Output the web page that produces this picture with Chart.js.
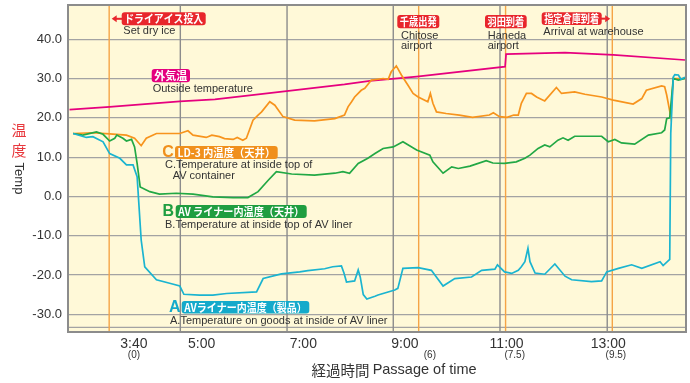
<!DOCTYPE html>
<html lang="ja">
<head>
<meta charset="UTF-8">
<title>温度推移</title>
<script src="https://cdn.jsdelivr.net/npm/chart.js@4.4.0/dist/chart.umd.min.js"></script>
<style>
  html, body { margin: 0; padding: 0; background: #fff; }
  .chart-box { position: relative; width: 690px; height: 383px; }
</style>
</head>
<body>
<div class="chart-box"><canvas id="tempChart"></canvas></div>
<script>
// x = clock time in hours (3.667 = 3:40), y = temperature in deg C
const outsideX = [2.40, 3.19, 4.57, 5.26, 6.67, 7.81, 8.31, 9.23, 10.97, 10.99, 12.15, 13.10, 14.51];
const outsideY = [22.1, 22.8, 24.2, 24.7, 26.8, 28.5, 29.4, 30.5, 33.0, 36.2, 36.6, 36.0, 34.7];

const ld3X = [2.47, 2.86, 3.19, 3.52, 3.68, 3.81, 3.91, 4.11, 4.57, 4.73, 4.83, 5.09, 5.20, 5.35, 5.45, 5.62, 5.70, 5.81, 5.88, 5.94, 6.01, 6.11, 6.18, 6.34, 6.44, 6.60, 6.83, 7.22, 7.62, 7.81, 7.88, 7.95, 8.01, 8.14, 8.21, 8.34, 8.57, 8.67, 8.73, 8.83, 8.93, 9.06, 9.16, 9.26, 9.45, 9.50, 9.55, 9.62, 9.81, 10.07, 10.33, 10.66, 10.74, 10.86, 11.01, 11.14, 11.23, 11.29, 11.39, 11.49, 11.59, 11.75, 11.98, 12.08, 12.34, 12.54, 12.87, 13.10, 13.49, 13.66, 13.75, 14.05, 14.11, 14.15, 14.23, 14.28, 14.51];
const ld3Y = [16.0, 16.2, 15.9, 15.6, 14.8, 12.9, 14.8, 16.0, 16.0, 16.7, 15.6, 15.0, 15.6, 15.2, 14.7, 14.5, 15.0, 14.3, 14.8, 16.9, 19.4, 20.7, 21.5, 24.1, 23.2, 20.3, 19.4, 19.2, 19.8, 20.7, 22.8, 24.1, 25.3, 27.0, 27.5, 29.6, 30.0, 29.8, 31.7, 33.2, 30.9, 28.3, 26.2, 25.3, 24.1, 26.2, 23.7, 21.5, 21.1, 20.7, 20.1, 20.7, 21.3, 20.3, 20.1, 20.7, 20.7, 23.7, 26.2, 26.2, 25.3, 24.3, 27.7, 26.2, 26.6, 26.0, 25.3, 24.5, 23.5, 24.9, 27.0, 28.1, 27.9, 25.8, 20.3, 30.0, 30.0];

const linerTopX = [2.47, 2.66, 2.93, 3.06, 3.19, 3.29, 3.33, 3.45, 3.52, 3.62, 3.68, 3.73, 3.79, 3.98, 4.17, 4.50, 4.83, 5.22, 5.62, 5.91, 6.11, 6.31, 6.47, 6.77, 7.22, 7.62, 7.78, 7.91, 8.08, 8.27, 8.41, 8.57, 8.77, 8.96, 9.23, 9.49, 9.55, 9.75, 9.92, 10.05, 10.28, 10.60, 10.73, 10.96, 11.19, 11.36, 11.46, 11.62, 11.75, 11.85, 12.01, 12.11, 12.21, 12.34, 12.87, 13.00, 13.13, 13.26, 13.52, 13.79, 14.05, 14.11, 14.15, 14.21, 14.28, 14.38, 14.51];
const linerTopY = [16.0, 15.6, 16.4, 15.8, 14.1, 14.8, 15.6, 14.8, 14.1, 14.5, 12.6, 8.4, 2.4, 1.2, 0.6, 0.8, 0.6, -0.1, -0.3, -0.3, 1.2, 4.1, 6.3, 5.7, 5.4, 5.9, 6.3, 5.9, 8.4, 9.7, 10.9, 12.2, 12.6, 13.9, 11.8, 10.5, 8.8, 5.9, 7.5, 7.1, 7.7, 9.1, 8.5, 8.4, 8.8, 9.7, 10.5, 12.2, 13.1, 12.6, 14.3, 14.9, 14.3, 15.3, 15.3, 13.9, 14.5, 13.6, 13.3, 15.6, 16.2, 16.9, 19.8, 20.0, 30.0, 29.6, 30.0];

const goodsX = [2.47, 2.73, 2.86, 3.06, 3.19, 3.39, 3.52, 3.65, 3.73, 3.81, 3.88, 4.11, 4.37, 4.57, 4.65, 4.96, 5.22, 5.49, 6.08, 6.21, 6.57, 6.93, 7.09, 7.42, 7.58, 7.75, 7.80, 7.85, 8.01, 8.08, 8.12, 8.18, 8.25, 8.41, 8.47, 8.80, 8.86, 8.96, 9.26, 9.52, 9.75, 9.98, 10.31, 10.51, 10.77, 10.82, 10.96, 11.10, 11.23, 11.29, 11.36, 11.42, 11.46, 11.56, 11.75, 11.95, 12.15, 12.28, 12.67, 12.87, 12.97, 13.20, 13.46, 13.66, 14.02, 14.08, 14.21, 14.23, 14.28, 14.31, 14.38, 14.43, 14.51];
const goodsY = [16.0, 15.0, 15.2, 13.9, 10.9, 9.7, 8.0, 8.0, 5.0, -11.1, -17.9, -21.2, -22.1, -22.8, -24.9, -25.1, -25.1, -24.7, -24.3, -20.9, -19.7, -19.2, -18.9, -18.4, -17.9, -17.7, -19.5, -21.8, -21.5, -18.7, -20.5, -25.0, -26.1, -25.4, -25.1, -23.8, -23.4, -18.3, -18.1, -18.8, -22.8, -20.9, -20.5, -18.8, -18.5, -17.4, -19.2, -19.6, -18.8, -17.9, -16.6, -13.2, -16.6, -19.5, -19.8, -17.2, -20.3, -21.2, -21.7, -21.5, -19.2, -18.3, -17.4, -18.3, -16.6, -17.6, -16.0, 16.0, 30.4, 31.0, 30.9, 29.8, 30.3];

// axis ticks
const xTickValues = [3.667, 5, 7, 9, 11, 13];
const xTickLabels = ['3:40', '5:00', '7:00', '9:00', '11:00', '13:00'];
const subTickValues = [3.667, 9.49, 11.16, 13.15];
const subTickLabels = ['(0)', '(6)', '(7.5)', '(9.5)'];
const yTickValues = [-30, -20, -10, 0, 10, 20, 30, 40];
const gridXValues = [4.58, 6.68, 8.77, 10.87, 12.98];
const eventXValues = [3.18, 9.27, 10.98, 13.08];
const extraYLines = [-33.3];

const FONT = '"Liberation Sans", Arial, "Noto Sans CJK JP", sans-serif';
const CJK = '"Noto Sans CJK JP", sans-serif';
const TEXT = '#333';

function pts(xs, ys) { return xs.map((x, i) => ({x: x, y: ys[i]})); }

// tags: [left, top, right, bottom, color, text, arrow]
const tags = [
  [121.7, 12.3, 205.7, 25.3, '#e8262c', 'ドライアイス投入', 'left'],
  [151.7, 69, 190, 82.3, '#e4007f', '外気温'],
  [397.3, 15, 439.3, 28.3, '#e8262c', '千歳出発'],
  [485, 15, 526.7, 28.3, '#e8262c', '羽田到着'],
  [541.7, 12.3, 601.7, 25, '#e8262c', '指定倉庫到着', 'right'],
  [175, 146, 277.7, 159, '#f0901c', 'LD-3 内温度（天井）'],
  [175.7, 205, 306.7, 218, '#1f9e40', 'AV ライナー内温度（天井）'],
  [181.7, 301, 309.3, 313.5, '#14aacb', 'AVライナー内温度（製品）']
];
const notes = [
  [123.3, 31, 'Set dry ice'],
  [152.7, 89, 'Outside temperature'],
  [401, 36, 'Chitose'], [401, 45.7, 'airport'],
  [487.7, 36, 'Haneda'], [487.7, 45.7, 'airport'],
  [543.3, 32.3, 'Arrival at warehouse'],
  [165, 165, 'C.Temperature at inside top of'],
  [172.7, 176, 'AV container'],
  [165, 225.3, 'B.Temperature at inside top of AV liner'],
  [170, 321, 'A.Temperature on goods at inside of AV liner']
];
const letters = [[168, 152.5, 'C', '#f0901c'], [168.3, 211.7, 'B', '#1f9e40'], [174.7, 307.5, 'A', '#14aacb']];

function roundRect(ctx, x, y, w, h, r) {
  ctx.beginPath();
  ctx.moveTo(x + r, y);
  ctx.arcTo(x + w, y, x + w, y + h, r);
  ctx.arcTo(x + w, y + h, x, y + h, r);
  ctx.arcTo(x, y + h, x, y, r);
  ctx.arcTo(x, y, x + w, y, r);
  ctx.closePath();
}

const decor = {
  id: 'decor',
  beforeDraw(chart) {
    const {ctx, chartArea: a} = chart;
    ctx.save();
    ctx.fillStyle = '#fff9d8';
    ctx.fillRect(a.left, a.top, a.width, a.height);
    ctx.restore();
  },
  beforeDatasetsDraw(chart) {
    const {ctx, chartArea: a, scales: {x, y}} = chart;
    ctx.save();
    ctx.strokeStyle = '#a3a3a3';
    ctx.lineWidth = 1.2;
    extraYLines.forEach(v => {
      const py = y.getPixelForValue(v);
      ctx.beginPath(); ctx.moveTo(a.left, py); ctx.lineTo(a.right, py); ctx.stroke();
    });
    ctx.strokeStyle = '#8c8c8c';
    ctx.lineWidth = 1.4;
    gridXValues.forEach(v => {
      const px = x.getPixelForValue(v);
      ctx.beginPath(); ctx.moveTo(px, a.top); ctx.lineTo(px, a.bottom); ctx.stroke();
    });
    ctx.strokeStyle = '#f5a446';
    ctx.lineWidth = 1.4;
    eventXValues.forEach(v => {
      const px = x.getPixelForValue(v);
      ctx.beginPath(); ctx.moveTo(px, a.top); ctx.lineTo(px, a.bottom); ctx.stroke();
    });
    ctx.restore();
  },
  afterDatasetsDraw(chart) {
    const {ctx, chartArea: a, scales: {x}} = chart;
    ctx.save();
    // frame
    ctx.strokeStyle = '#8c8c8c';
    ctx.lineWidth = 2;
    ctx.strokeRect(a.left, a.top, a.width, a.height);

    // label tags
    tags.forEach(t => {
      const [l, tp, r, b, color, text, arrow] = t;
      ctx.fillStyle = color;
      roundRect(ctx, l, tp, r - l, b - tp, 3);
      ctx.fill();
      const my = (tp + b) / 2;
      if (arrow === 'left') {
        ctx.fillRect(l - 6, my - 1, 7, 2);
        ctx.beginPath(); ctx.moveTo(l - 10, my); ctx.lineTo(l - 5, my - 3.5); ctx.lineTo(l - 5, my + 3.5); ctx.fill();
      } else if (arrow === 'right') {
        ctx.fillRect(r - 1, my - 1, 5, 2);
        ctx.beginPath(); ctx.moveTo(r + 8.5, my); ctx.lineTo(r + 3.5, my - 3.5); ctx.lineTo(r + 3.5, my + 3.5); ctx.fill();
      }
      ctx.fillStyle = '#fff';
      ctx.font = 'bold 11px ' + CJK;
      ctx.textAlign = 'center';
      ctx.textBaseline = 'middle';
      ctx.fillText(text, (l + r) / 2, my + 0.5, r - l - 5);
    });

    letters.forEach(([lx, ly, s, c]) => {
      ctx.fillStyle = c;
      ctx.font = 'bold 16px ' + FONT;
      ctx.textAlign = 'center';
      ctx.textBaseline = 'middle';
      ctx.fillText(s, lx, ly);
    });

    ctx.fillStyle = TEXT;
    ctx.font = '11px ' + FONT;
    ctx.textAlign = 'left';
    ctx.textBaseline = 'middle';
    notes.forEach(([nx, ny, s]) => ctx.fillText(s, nx, ny));

    // sub labels under time ticks
    ctx.font = '10px ' + FONT;
    ctx.textAlign = 'center';
    subTickValues.forEach((v, i) => ctx.fillText(subTickLabels[i], x.getPixelForValue(v), 355.7));

    // axis titles
    ctx.font = '14.5px ' + CJK;
    ctx.textAlign = 'left';
    const t1 = '経過時間 ';
    const w1 = ctx.measureText(t1).width;
    ctx.font = '14.5px ' + FONT;
    const t2 = 'Passage of time';
    const w2 = ctx.measureText(t2).width;
    const sx = 394 - (w1 + w2) / 2;
    ctx.font = '14.5px ' + CJK;
    ctx.fillText(t1, sx, 370);
    ctx.font = '14.5px ' + FONT;
    ctx.fillText(t2, sx + w1, 370);

    ctx.fillStyle = '#e8383d';
    ctx.font = '15px ' + CJK;
    ctx.textAlign = 'center';
    ctx.fillText('温', 19, 130.5);
    ctx.fillText('度', 19, 150);
    ctx.fillStyle = TEXT;
    ctx.translate(19, 178.5);
    ctx.rotate(Math.PI / 2);
    ctx.font = '13px ' + FONT;
    ctx.fillText('Temp', 0, 0);
    ctx.restore();
  }
};

const line = (data, color) => ({
  data: data,
  borderColor: color,
  borderWidth: 1.7,
  pointRadius: 0,
  tension: 0,
  fill: false
});

new Chart(document.getElementById('tempChart'), {
  type: 'line',
  data: {
    datasets: [
      line(pts(goodsX, goodsY), '#1ab4d0'),
      line(pts(linerTopX, linerTopY), '#22a845'),
      line(pts(ld3X, ld3Y), '#f7941d'),
      line(pts(outsideX, outsideY), '#e6007e')
    ]
  },
  options: {
    responsive: true,
    maintainAspectRatio: false,
    animation: false,
    events: [],
    layout: { padding: { left: 28, right: 4, top: 5, bottom: 0 } },
    plugins: { legend: { display: false }, tooltip: { enabled: false } },
    scales: {
      x: {
        type: 'linear',
        min: 2.37,
        max: 14.53,
        grid: { display: false, drawTicks: false },
        border: { display: false },
        afterBuildTicks: s => { s.ticks = xTickValues.map(v => ({value: v})); },
        afterFit: s => { s.height = 51; s.paddingLeft = 0; s.paddingRight = 0; },
        ticks: {
          autoSkip: false,
          maxRotation: 0,
          padding: 4,
          color: TEXT,
          font: { size: 14, family: FONT },
          callback: (v, i) => xTickLabels[i]
        }
      },
      y: {
        min: -34.5,
        max: 48.7,
        grid: { color: '#a3a3a3', lineWidth: 1.2, drawTicks: false },
        border: { display: false },
        afterBuildTicks: s => { s.ticks = yTickValues.map(v => ({value: v})); },
        afterFit: s => { s.width = 40; s.paddingTop = 0; s.paddingBottom = 0; },
        ticks: {
          padding: 6,
          color: TEXT,
          font: { size: 13, family: FONT },
          callback: v => v.toFixed(1)
        }
      }
    }
  },
  plugins: [decor]
});
</script>
</body>
</html>
